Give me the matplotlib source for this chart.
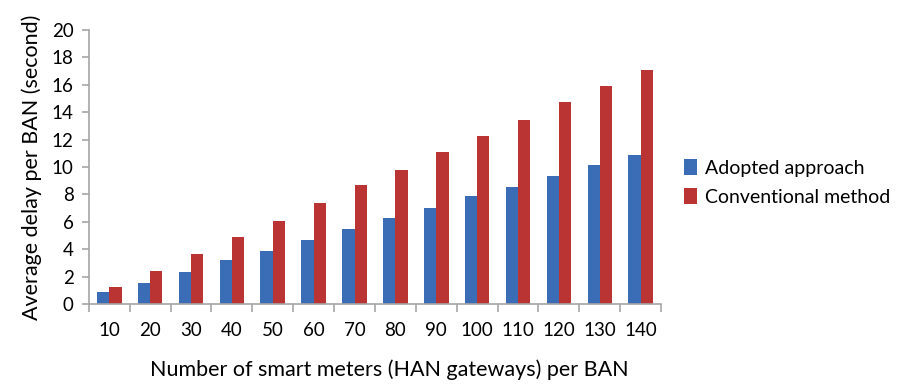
import numpy as np
import matplotlib.pyplot as plt

plt.rcParams['font.family'] = ['Lato', 'DejaVu Sans']

meters = [10, 20, 30, 40, 50, 60, 70, 80, 90, 100, 110, 120, 130, 140]
adopted = [0.85, 1.55, 2.36, 3.21, 3.87, 4.67, 5.45, 6.28, 6.99, 7.86, 8.56, 9.36, 10.12, 10.9]
conventional = [1.22, 2.43, 3.65, 4.91, 6.08, 7.35, 8.66, 9.78, 11.08, 12.26, 13.43, 14.77, 15.94, 17.1]

blue = "#3a6db5"
red = "#bb3434"
axis_grey = "#a6a6a6"

fig = plt.figure(figsize=(8.97, 3.84), dpi=100)
ax = fig.add_axes([0.099, 0.208, 0.638, 0.714])

x = np.arange(len(meters))
w = 0.3
ax.bar(x - w/2, adopted, w, color=blue, label="Adopted approach")
ax.bar(x + w/2, conventional, w, color=red, label="Conventional method")

ax.set_xlim(-0.5, len(meters) - 0.5)
ax.set_ylim(0, 20)
ax.set_yticks(range(0, 21, 2))
ax.set_xticks(x)
ax.set_xticklabels([str(m) for m in meters])
ax.set_xticks(np.arange(-0.5, len(meters)), minor=True)

for s in ["top", "right"]:
    ax.spines[s].set_visible(False)
for s in ["left", "bottom"]:
    ax.spines[s].set_color(axis_grey)
    ax.spines[s].set_linewidth(1.2)

ax.tick_params(axis="x", which="major", length=0, pad=13, labelsize=13.5)
ax.tick_params(axis="x", which="minor", length=6, color=axis_grey, width=1.2)
ax.tick_params(axis="y", length=5, color=axis_grey, width=1.2, labelsize=13.5, pad=6)

ax.set_xlabel("Number of smart meters (HAN gateways) per BAN", fontsize=15.5, labelpad=13)
ax.xaxis.set_label_coords(0.525, -0.2)
ax.set_ylabel("Average delay per BAN (second)", fontsize=15.5, labelpad=7)

fig.legend(loc="center left", bbox_to_anchor=(0.762, 0.525), frameon=False,
           fontsize=14, handlelength=0.7, handleheight=0.9, handletextpad=0.4,
           labelspacing=0.55, borderaxespad=0, borderpad=0)

fig.savefig("out.png", dpi=100)
